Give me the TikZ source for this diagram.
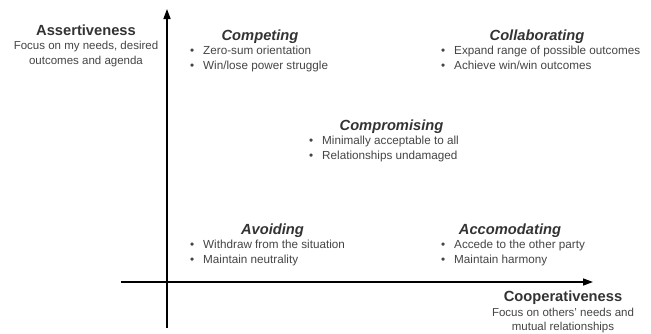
\documentclass[tikz,border=0pt]{standalone}
\usepackage{fontspec}
\setmainfont{Liberation Sans}
\usetikzlibrary{arrows.meta}
\definecolor{titlec}{HTML}{333333}
\definecolor{bodyc}{HTML}{444444}
\begin{document}
\begin{tikzpicture}[x=1pt,y=-1pt,
  axis/.style={line width=1.5pt,-{Triangle[length=10pt,width=7pt]}},
  qtitle/.style={font=\fontsize{14.7}{16}\selectfont\bfseries\itshape,text=titlec,inner sep=0pt,anchor=base},
  axtitle/.style={font=\fontsize{14.7}{16}\selectfont\bfseries,text=titlec,inner sep=0pt,anchor=base},
  axtext/.style={font=\fontsize{11.5}{14}\selectfont,text=bodyc,inner sep=0pt,anchor=base},
  bline/.style={font=\fontsize{11.7}{14}\selectfont,text=bodyc,inner sep=0pt,anchor=base west}
]
\useasboundingbox (0,0) rectangle (651,333);
\newcommand{\blt}{\makebox[13pt][l]{\textbullet}}
% axes
\coordinate (ybot) at (167,328);
\coordinate (ytop) at (167,9);
\coordinate (xl) at (121,282);
\coordinate (xr) at (593,282);
\draw[axis] (ybot) -- (ytop);
\draw[axis] (xl) -- (xr);
% axis labels
\node[axtitle] (asst) at (86,35) {Assertiveness};
\node[axtext] (asst1) at (86,49) {Focus on my needs, desired};
\node[axtext] (asst2) at (86,64) {outcomes and agenda};
\node[axtitle] (coop) at (563,301) {Cooperativeness};
\node[axtext] (coop1) at (563,316) {Focus on others' needs and};
\node[axtext] (coop2) at (563,330) {mutual relationships};
% Competing
\node[qtitle] (comp) at (260,40) {Competing};
\node[bline] (comp1) at (190,54) {\blt Zero-sum orientation};
\node[bline] (comp2) at (190,69) {\blt Win/lose power struggle};
% Collaborating
\node[qtitle] (coll) at (537,40) {Collaborating};
\node[bline] (coll1) at (441,54) {\blt Expand range of possible outcomes};
\node[bline] (coll2) at (441,69) {\blt Achieve win/win outcomes};
% Compromising
\node[qtitle] (cmpr) at (391.5,130) {Compromising};
\node[bline] (cmpr1) at (309,144) {\blt Minimally acceptable to all};
\node[bline] (cmpr2) at (309,159) {\blt Relationships undamaged};
% Avoiding
\node[qtitle] (avoi) at (272.5,234) {Avoiding};
\node[bline] (avoi1) at (190,248) {\blt Withdraw from the situation};
\node[bline] (avoi2) at (190,263) {\blt Maintain neutrality};
% Accomodating
\node[qtitle] (acco) at (510,234) {Accomodating};
\node[bline] (acco1) at (441,248) {\blt Accede to the other party};
\node[bline] (acco2) at (441,263) {\blt Maintain harmony};
\end{tikzpicture}
\end{document}
